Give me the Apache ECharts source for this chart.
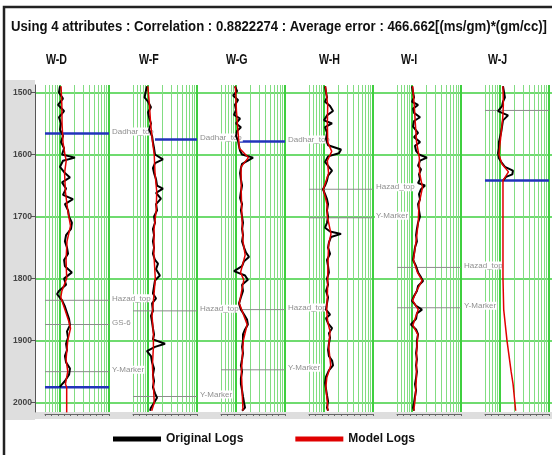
<!DOCTYPE html>
<html>
<head>
<meta charset="utf-8">
<script src="https://cdn.jsdelivr.net/npm/echarts@6/dist/echarts.min.js"></script>
<style>
html,body{margin:0;padding:0;background:#fff;}
#main{width:552px;height:455px;}
</style>
</head>
<body>
<div id="main"></div>
<script>
var wells = ['W-D', 'W-F', 'W-G', 'W-H', 'W-I', 'W-J'];
var depthTicks = [1500, 1600, 1700, 1800, 1900, 2000];
var gridValues = [5, 6, 7, 8, 9, 10, 20, 30, 40, 50, 60, 70, 80, 90, 100];
var majorValues = [10, 100];
var headline = 'Using 4 attributes : Correlation : 0.8822274 : Average error : 466.662[(ms/gm)*(gm/cc)]';

// [depth, value]  black = original log, red = model log
var origD = [[1490,10.1],[1500,9.6],[1510,11.6],[1520,9.2],[1530,12.2],[1540,9.6],[1550,10.6],[1560,10.1],[1570,11.6],[1580,10.6],[1590,12.2],[1600,11.1],[1605,20.3],[1610,11.6],[1620,10.1],[1630,12.7],[1637,16.1],[1645,11.1],[1655,13.4],[1665,11.6],[1672,18.5],[1680,12.7],[1690,14.7],[1700,15.4],[1710,17.6],[1720,16.9],[1730,13.4],[1740,12.7],[1750,14],[1760,14.7],[1770,12.2],[1780,12.7],[1790,17.6],[1800,12.2],[1810,13.4],[1820,9.6],[1825,8.8],[1835,11.1],[1845,12.7],[1855,14],[1865,15.4],[1875,16.1],[1885,14],[1895,14.7],[1905,13.4],[1915,14],[1925,12.7],[1935,13.4],[1945,16.1],[1955,15.4],[1965,12.7],[1972,10.6],[1975,10.1]];
var modelD = [[1490,10.6],[1520,11],[1550,11.1],[1580,11.6],[1600,12.7],[1610,13.5],[1630,12.5],[1660,13],[1690,14.5],[1715,16.5],[1740,14],[1770,13.4],[1800,13.8],[1820,11],[1830,10.5],[1850,12.7],[1870,15.4],[1880,16.5],[1900,14.5],[1930,13.4],[1950,14.5],[1970,13],[1975,13.8],[2016,13.8]];

var origF = [[1490,9.6],[1500,9.0],[1508,8.6],[1515,10.1],[1524,11.6],[1532,10.1],[1540,10.6],[1550,11.6],[1560,10.6],[1570,12.2],[1580,12.7],[1590,13.4],[1600,14],[1608,20.3],[1614,14],[1622,12.7],[1630,13.4],[1640,14.7],[1650,15.4],[1655,20.3],[1662,14.7],[1671,18.5],[1680,14.7],[1690,15.4],[1700,13.4],[1710,14],[1720,12.7],[1730,13.4],[1740,12.7],[1750,13.4],[1760,12.7],[1770,14],[1776,16.1],[1785,14.7],[1795,17.6],[1803,14],[1812,13.4],[1824,12.7],[1832,14.7],[1840,12.2],[1852,12.7],[1860,11.6],[1870,12.2],[1880,12.7],[1890,13.4],[1898,12.7],[1905,22.4],[1910,14],[1917,9.6],[1925,11.6],[1935,12.2],[1945,13.4],[1955,12.7],[1965,13.4],[1975,12.7],[1985,14],[1992,15.4],[2000,13.4],[2008,11.6],[2013,11.1]];
var modelF = [[1490,10],[1520,10.8],[1550,11.4],[1580,12.5],[1600,13.5],[1630,14],[1660,15.2],[1690,14.8],[1720,13.4],[1760,13.3],[1800,14.2],[1830,13.2],[1860,12.2],[1890,13],[1910,13],[1940,12.4],[1970,13],[2000,13.5],[2013,12]];

var origG = [[1490,9.6],[1498,10.6],[1505,8.8],[1512,11.1],[1520,9.6],[1528,10.1],[1536,9.2],[1542,12.2],[1550,10.1],[1556,12.7],[1562,10.6],[1570,10.1],[1578,11.1],[1586,11.6],[1594,12.2],[1600,13.4],[1605,22.4],[1610,17.6],[1615,13.4],[1622,12.7],[1630,12.2],[1640,12.7],[1650,13.4],[1660,12.7],[1670,12.2],[1680,13.4],[1690,12.7],[1700,13.4],[1710,14],[1720,13.4],[1730,14],[1740,13.4],[1750,14.7],[1758,16.1],[1765,18.5],[1772,14.7],[1780,13.4],[1788,9.2],[1795,15.4],[1802,17.6],[1810,13.4],[1820,14],[1830,12.7],[1840,11.6],[1850,12.7],[1858,14.7],[1866,16.9],[1874,17.6],[1882,15.4],[1890,14],[1900,14],[1910,13.4],[1920,14],[1930,13.4],[1940,12.7],[1950,13.4],[1960,12.7],[1970,12.7],[1980,13.4],[1990,14],[2000,14.7],[2008,15.4],[2013,13.4]];
var modelG = [[1490,9.8],[1530,10.3],[1560,11],[1590,11.8],[1605,18],[1620,12.8],[1660,12.9],[1700,13.3],[1740,14],[1762,15.5],[1790,12.5],[1802,14.5],[1840,11.8],[1874,17],[1900,14.2],[1950,13],[1990,13.6],[2013,14]];

var origH = [[1490,10.6],[1500,11.1],[1508,11.6],[1515,10.6],[1522,13.4],[1530,15.4],[1537,11.6],[1545,10.1],[1550,14.7],[1556,10.6],[1565,11.6],[1575,11.1],[1585,12.2],[1592,22.4],[1598,20.3],[1603,12.2],[1612,10.6],[1620,12.7],[1626,14.7],[1634,12.2],[1642,11.6],[1650,10.6],[1656,9.6],[1664,10.6],[1672,11.6],[1680,12.2],[1690,11.6],[1700,12.2],[1710,11.6],[1718,10.6],[1724,13.4],[1728,22.4],[1733,14],[1742,12.7],[1750,12.2],[1760,13.4],[1770,11.6],[1780,12.2],[1790,12.7],[1800,11.6],[1810,12.2],[1820,11.1],[1830,12.2],[1840,11.6],[1850,11.1],[1858,13.4],[1864,11.1],[1872,12.2],[1880,14.7],[1888,12.7],[1895,13.4],[1905,12.7],[1915,12.2],[1925,12.7],[1932,14.7],[1940,15.4],[1948,12.7],[1958,11.1],[1968,10.6],[1978,11.1],[1988,11.6],[1998,12.2],[2008,11.6],[2013,12.2]];
var modelH = [[1490,10.8],[1520,12],[1550,11.8],[1580,12],[1595,14.5],[1610,11.8],[1630,12.5],[1656,9.8],[1680,11.6],[1700,11.8],[1728,14],[1745,12.5],[1770,12.2],[1800,12],[1830,11.8],[1850,11.4],[1870,12],[1885,13.4],[1910,12.6],[1940,13.8],[1960,11.5],[1975,11],[2000,11.8],[2013,12]];

var origI = [[1490,10.1],[1500,10.6],[1508,11.1],[1515,10.1],[1520,13.4],[1526,10.6],[1533,11.1],[1540,14.7],[1546,11.1],[1555,10.6],[1565,13.4],[1572,11.1],[1580,14.7],[1586,11.6],[1594,12.2],[1600,14],[1605,20.3],[1610,14.7],[1618,13.4],[1624,15.4],[1632,14],[1640,14.7],[1646,13.4],[1650,18.5],[1656,15.4],[1664,14],[1672,14.7],[1680,13.4],[1690,14],[1700,14.7],[1710,13.4],[1720,12.7],[1730,12.2],[1740,12.7],[1750,11.6],[1760,11.1],[1770,10.6],[1780,12.2],[1790,13.4],[1798,15.4],[1804,16.9],[1812,13.4],[1820,12.7],[1828,11.1],[1836,10.1],[1844,12.2],[1850,16.1],[1856,12.7],[1865,12.2],[1874,9.6],[1882,12.2],[1890,13.4],[1900,12.7],[1910,12.7],[1920,12.2],[1930,12.7],[1940,12.2],[1950,12.7],[1960,12.2],[1970,11.6],[1980,12.2],[1990,11.6],[2000,11.1],[2008,10.6],[2013,11.1]];
var modelI = [[1490,10.4],[1520,11.2],[1550,11.8],[1580,12.5],[1605,14.2],[1630,14.4],[1653,16.5],[1680,14],[1710,13.5],[1740,12.2],[1770,10.8],[1790,13],[1803,16.2],[1820,12.5],[1835,10.4],[1850,13.5],[1875,10.5],[1890,13.2],[1920,12.5],[1960,12.4],[1990,11.8],[2013,11]];

var origJ = [[1490,11.6],[1500,12.2],[1508,12.7],[1515,11.6],[1522,11.1],[1530,9.2],[1537,14.7],[1545,11.6],[1555,11.1],[1565,10.6],[1572,10.1],[1580,9.6],[1590,9.6],[1598,9.2],[1606,9.6],[1614,11.1],[1620,12.7],[1626,18.5],[1632,18],[1636,13.4],[1642,11.6]];
var modelJ = [[1490,11.6],[1520,11.8],[1540,11.5],[1570,10.5],[1600,9.6],[1615,11],[1628,15],[1642,11.6],[1700,11.6],[1800,11.6],[1850,12],[1900,14],[1950,17],[1970,18.6],[2013,21]];

// [well index, label, depth, start value, kind]
var markers = [
  [0, 'Dadhar_top', 1566, 5, 'blue'],
  [0, 'Hazad_top', 1835, 5, 'gray'],
  [0, 'GS-6', 1874, 5, 'gray'],
  [0, 'Y-Marker', 1950, 5, 'gray'],
  [0, '', 1975, 5, 'blue'],
  [1, 'Dadhar_top', 1576, 14, 'blue'],
  [1, 'Hazad_top', 1852, 5, 'gray'],
  [1, 'Y-Marker', 1990, 5, 'gray'],
  [2, 'Dadhar_top', 1579, 12, 'blue'],
  [2, 'Hazad_top', 1850, 9.6, 'gray'],
  [2, 'Y-Marker', 1947, 5, 'gray'],
  [3, 'Hazad_top', 1656, 5, 'gray'],
  [3, 'Y-Marker', 1702, 5, 'gray'],
  [4, 'Hazad_top', 1782, 5, 'gray'],
  [4, 'Y-Marker', 1847, 5, 'gray'],
  [5, '', 1529, 5, 'gray'],
  [5, '', 1642, 5, 'blue']
];

var origLogs = [origD, origF, origG, origH, origI, origJ];
var modelLogs = [modelD, modelF, modelG, modelH, modelI, modelJ];

var FONT = '"Liberation Sans", Arial, sans-serif';
var trackLeft = [45, 133, 221, 309, 397, 485];
var wellLabelX = [46, 139, 226, 319, 401, 488];
var TOP = 85, H = 327, DMIN = 1488, DMAX = 2015;

// squeeze a bold sans text into the narrow look of the original
function squeeze(text, font, width) {
  var ctx = document.createElement('canvas').getContext('2d');
  ctx.font = font;
  return width / ctx.measureText(text).width;
}

var chart = echarts.init(document.getElementById('main'), null, {renderer: 'canvas'});

var grids = [{left: 35, top: TOP, width: 517, height: H}];
var xAxes = [{type: 'value', gridIndex: 0, show: false}];
var yAxes = [{
  type: 'value', gridIndex: 0, inverse: true, min: DMIN, max: DMAX,
  axisLine: {show: true, lineStyle: {color: '#555', width: 1}},
  axisTick: {show: true, length: 4, customValues: depthTicks, lineStyle: {color: '#555'}},
  axisLabel: {customValues: depthTicks, margin: 3, fontSize: 8.5, fontWeight: 'bold', color: '#444', fontFamily: FONT,
    formatter: function (v) { return String(v); }},
  splitLine: {show: true, lineStyle: {color: '#3fcf3f', width: 1.6}}
}];

var titleFont = 'bold 15px "Liberation Sans", Arial, sans-serif';
var wellFont = 'bold 14px "Liberation Sans", Arial, sans-serif';
var texts = [{
  type: 'text', x: 11, y: 19, scaleX: squeeze(headline, titleFont, 536), z: 20,
  style: {text: headline, font: titleFont, fill: '#111'}
}];
var series = [];

wells.forEach(function (w, k) {
  grids.push({left: trackLeft[k], top: TOP, width: 64, height: H});
  var g = k + 1;
  xAxes.push({
    type: 'log', logBase: 10, gridIndex: g, min: 5, max: 100,
    axisLine: {show: false}, axisLabel: {show: false},
    axisTick: {show: false, customValues: gridValues},
    splitLine: {show: true, lineStyle: {color: '#82dd82', width: 1}}
  });
  xAxes.push({
    type: 'log', logBase: 10, gridIndex: g, min: 5, max: 100,
    axisLine: {show: false}, axisLabel: {show: false},
    axisTick: {show: false, customValues: majorValues},
    splitLine: {show: true, lineStyle: {color: '#3fcf3f', width: 2}}
  });
  xAxes.push({
    type: 'value', gridIndex: g, min: 0, max: 10, interval: 1, position: 'bottom', offset: 2,
    axisLine: {show: true, lineStyle: {color: '#666', width: 1}},
    axisTick: {show: true, length: 2, lineStyle: {color: '#666'}},
    axisLabel: {show: false}, splitLine: {show: false}
  });
  yAxes.push({type: 'value', gridIndex: g, inverse: true, min: DMIN, max: DMAX, show: false});
  texts.push({
    type: 'text', x: wellLabelX[k], y: 53, z: 20, scaleX: 0.76,
    style: {text: w, font: wellFont, fill: '#111'}
  });
  var xi = 1 + 3 * k;

  markers.filter(function (m) { return m[0] === k; }).forEach(function (m) {
    var blue = m[4] === 'blue';
    series.push({
      type: 'line', xAxisIndex: xi, yAxisIndex: g, symbol: 'none', silent: true, z: 1,
      data: [[m[3], m[2]], [100, m[2]]],
      lineStyle: {color: blue ? '#2233bb' : '#8c8c8c', width: blue ? 2.5 : 1},
      endLabel: {show: m[1] !== '', formatter: m[1], color: '#8f8f8f', fontSize: 8, fontFamily: FONT,
        distance: 2, offset: [0, -2], backgroundColor: '#fff', padding: [0, 1]}
    });
  });

  series.push({
    name: 'Original Logs', type: 'line', xAxisIndex: xi, yAxisIndex: g, symbol: 'none', z: 3,
    data: origLogs[k].map(function (p) { return [p[1], p[0]]; }),
    lineStyle: {color: '#000', width: 2}, itemStyle: {color: '#000'}
  });
  series.push({
    name: 'Model Logs', type: 'line', xAxisIndex: xi, yAxisIndex: g, symbol: 'none', z: 4,
    data: modelLogs[k].map(function (p) { return [p[1], p[0]]; }),
    lineStyle: {color: '#e00000', width: 1.5}, itemStyle: {color: '#e00000'}
  });
});

chart.setOption({
  backgroundColor: '#fff',
  animation: false,
  legend: {
    data: ['Original Logs', 'Model Logs'], left: 108, top: 428, icon: 'rect',
    itemWidth: 48, itemHeight: 5, itemGap: 52, selectedMode: false,
    textStyle: {fontFamily: FONT, fontWeight: 'bold', fontSize: 12, color: '#111'}
  },
  graphic: texts.concat([
    {type: 'rect', shape: {x: 5, y: 80, width: 30, height: 340}, style: {fill: '#dedede'}, z: -10},
    {type: 'rect', shape: {x: 35, y: 412, width: 520, height: 7}, style: {fill: '#dedede'}, z: -10},
    {type: 'rect', shape: {x: 4, y: 7, width: 600, height: 500}, style: {fill: 'none', stroke: '#222', lineWidth: 2.5}, z: 10}
  ]),
  grid: grids,
  xAxis: xAxes,
  yAxis: yAxes,
  series: series
});
</script>
</body>
</html>
